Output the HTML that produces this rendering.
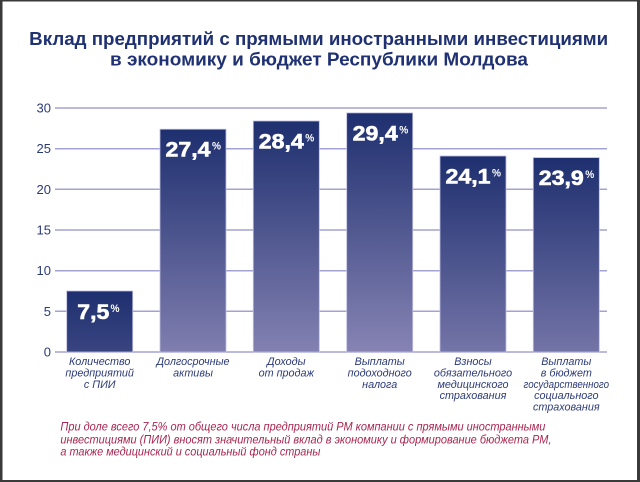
<!DOCTYPE html>
<html><head><meta charset="utf-8"><style>
html,body{margin:0;padding:0;background:#fff;}
svg{display:block;}
</style></head><body>
<svg width="640" height="482" viewBox="0 0 640 482" xmlns="http://www.w3.org/2000/svg">
<defs>
<linearGradient id="g1" gradientUnits="userSpaceOnUse" x1="0" y1="291" x2="0" y2="531"><stop offset="0" stop-color="#1e2f6f"/><stop offset="1" stop-color="#8784b4"/></linearGradient>
<linearGradient id="g2" gradientUnits="userSpaceOnUse" x1="0" y1="129.2" x2="0" y2="369.2"><stop offset="0" stop-color="#1e2f6f"/><stop offset="1" stop-color="#8784b4"/></linearGradient>
<linearGradient id="g3" gradientUnits="userSpaceOnUse" x1="0" y1="121" x2="0" y2="361"><stop offset="0" stop-color="#1e2f6f"/><stop offset="1" stop-color="#8784b4"/></linearGradient>
<linearGradient id="g4" gradientUnits="userSpaceOnUse" x1="0" y1="112.9" x2="0" y2="352.9"><stop offset="0" stop-color="#1e2f6f"/><stop offset="1" stop-color="#8784b4"/></linearGradient>
<linearGradient id="g5" gradientUnits="userSpaceOnUse" x1="0" y1="156" x2="0" y2="396"><stop offset="0" stop-color="#1e2f6f"/><stop offset="1" stop-color="#8784b4"/></linearGradient>
<linearGradient id="g6" gradientUnits="userSpaceOnUse" x1="0" y1="157.6" x2="0" y2="397.6"><stop offset="0" stop-color="#1e2f6f"/><stop offset="1" stop-color="#8784b4"/></linearGradient>
</defs>
<rect x="0" y="0" width="640" height="482" fill="#fff"/>
<!-- border -->
<rect x="0" y="0" width="640" height="1.5" fill="#3a3a3a"/>
<rect x="0" y="0" width="2.5" height="482" fill="#3a3a3a"/>
<rect x="637" y="0" width="3" height="482" fill="#3a3a3a"/>
<rect x="0" y="480" width="640" height="2" fill="#3a3a3a"/>

<!-- title -->
<g font-family="Liberation Sans, sans-serif" font-weight="bold" font-size="18" fill="#1f3172" text-anchor="middle">
<text x="318.7" y="45" textLength="579" lengthAdjust="spacingAndGlyphs">Вклад предприятий с прямыми иностранными инвестициями</text>
<text x="319" y="65.5" textLength="418" lengthAdjust="spacingAndGlyphs">в экономику и бюджет Республики Молдова</text>
</g>

<!-- gridlines -->
<g stroke="#a3a3d3" stroke-width="1.5">
<line x1="55" x2="607" y1="108" y2="108"/>
<line x1="55" x2="607" y1="148.7" y2="148.7"/>
<line x1="55" x2="607" y1="189.3" y2="189.3"/>
<line x1="55" x2="607" y1="230" y2="230"/>
<line x1="55" x2="607" y1="270.7" y2="270.7"/>
<line x1="55" x2="607" y1="311.3" y2="311.3"/>
<line x1="55" x2="607" y1="352" y2="352"/>
</g>
<g font-family="Liberation Sans, sans-serif" font-size="13" fill="#2b3a78" text-anchor="end">
<text x="51" y="112.5">30</text>
<text x="51" y="153.2">25</text>
<text x="51" y="193.8">20</text>
<text x="51" y="234.5">15</text>
<text x="51" y="275.2">10</text>
<text x="51" y="315.8">5</text>
<text x="51" y="356.5">0</text>
</g>

<!-- bars -->
<g stroke="#bdbde2" stroke-width="0.8">
<rect x="66.7" y="291" width="66" height="61" fill="url(#g1)"/>
<rect x="160" y="129.2" width="66" height="222.8" fill="url(#g2)"/>
<rect x="253.3" y="121" width="66" height="231" fill="url(#g3)"/>
<rect x="346.7" y="112.9" width="66" height="239.1" fill="url(#g4)"/>
<rect x="440" y="156" width="66" height="196" fill="url(#g5)"/>
<rect x="533.3" y="157.6" width="66" height="194.4" fill="url(#g6)"/>
</g>

<!-- value labels -->
<g font-family="Liberation Sans, sans-serif" font-weight="bold" fill="#fff">
<g stroke="#fff" stroke-width="0.6">
<text x="77.3" y="319" font-size="21" textLength="32" lengthAdjust="spacingAndGlyphs">7,5</text>
<text x="165.5" y="156.7" font-size="21" textLength="45" lengthAdjust="spacingAndGlyphs">27,4</text>
<text x="258.8" y="148.5" font-size="21" textLength="45" lengthAdjust="spacingAndGlyphs">28,4</text>
<text x="352.7" y="140.3" font-size="21" textLength="45" lengthAdjust="spacingAndGlyphs">29,4</text>
<text x="445.5" y="183.5" font-size="21" textLength="45" lengthAdjust="spacingAndGlyphs">24,1</text>
<text x="538.8" y="185.1" font-size="21" textLength="45" lengthAdjust="spacingAndGlyphs">23,9</text>
</g>
<text x="110.5" y="312" font-size="11" textLength="9" lengthAdjust="spacingAndGlyphs">%</text>
<text x="212" y="149.7" font-size="11" textLength="9" lengthAdjust="spacingAndGlyphs">%</text>
<text x="305.3" y="141.5" font-size="11" textLength="9" lengthAdjust="spacingAndGlyphs">%</text>
<text x="399.3" y="133.3" font-size="11" textLength="9" lengthAdjust="spacingAndGlyphs">%</text>
<text x="492" y="176.5" font-size="11" textLength="9" lengthAdjust="spacingAndGlyphs">%</text>
<text x="585.3" y="178.1" font-size="11" textLength="9" lengthAdjust="spacingAndGlyphs">%</text>
</g>

<!-- category labels -->
<g font-family="Liberation Sans, sans-serif" font-style="italic" font-size="10.8" fill="#2b3a78" text-anchor="middle">
<text x="99.7" y="365">Количество</text>
<text x="99.7" y="376.5">предприятий</text>
<text x="99.7" y="387.8">с ПИИ</text>

<text x="193" y="365">Долгосрочные</text>
<text x="193" y="376.5">активы</text>

<text x="286.3" y="365">Доходы</text>
<text x="286.3" y="376.5">от продаж</text>

<text x="379.7" y="365">Выплаты</text>
<text x="379.7" y="376.5">подоходного</text>
<text x="379.7" y="387.8">налога</text>

<text x="473" y="365">Взносы</text>
<text x="473" y="376.5">обязательного</text>
<text x="473" y="387.8">медицинского</text>
<text x="473" y="399.1">страхования</text>

<text x="566.3" y="365">Выплаты</text>
<text x="566.3" y="376.5">в бюджет</text>
<text x="566.3" y="387.8" textLength="85.5" lengthAdjust="spacingAndGlyphs">государственного</text>
<text x="566.3" y="399.1">социального</text>
<text x="566.3" y="410.4">страхования</text>
</g>

<!-- footnote -->
<g font-family="Liberation Sans, sans-serif" font-style="italic" font-size="11.5" fill="#a8264f">
<text x="60.4" y="430.7" textLength="485" lengthAdjust="spacingAndGlyphs">При доле всего 7,5% от общего числа предприятий РМ компании с прямыми иностранными</text>
<text x="60.4" y="443.3" textLength="491" lengthAdjust="spacingAndGlyphs">инвестициями (ПИИ) вносят значительный вклад в экономику и формирование бюджета РМ,</text>
<text x="60.4" y="455.7" textLength="260" lengthAdjust="spacingAndGlyphs">а также медицинский и социальный фонд страны</text>
</g>
</svg>
</body></html>
